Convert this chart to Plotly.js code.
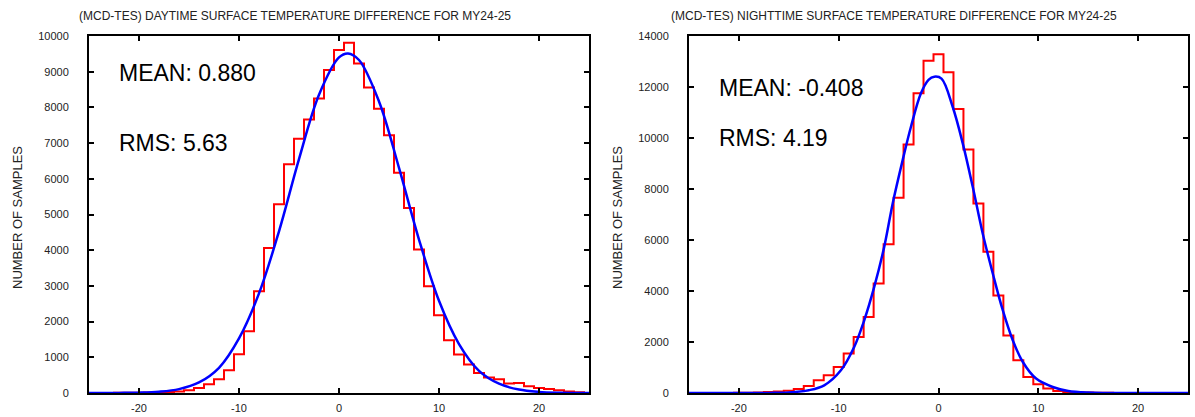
<!DOCTYPE html>
<html>
<head>
<meta charset="utf-8">
<script src="https://cdn.plot.ly/plotly-3.0.1.min.js"></script>
<style>html,body{margin:0;padding:0;background:#fff;}#chart{width:1195px;height:417px;}</style>
</head>
<body>
<div id="chart"></div>
<script>
// ---- Data ----
const binCenters = [-24,-23,-22,-21,-20,-19,-18,-17,-16,-15,-14,-13,-12,-11,-10,-9,-8,-7,-6,-5,-4,-3,-2,-1,0,1,2,3,4,5,6,7,8,9,10,11,12,13,14,15,16,17,18,19,20,21,22,23,24];

const dayCounts = [2,3,4,6,8,12,18,25,40,75,140,244,384,636,1085,1729,2850,4065,5289,6411,7120,7663,8252,9046,9606,9811,9233,8560,7960,7223,6167,5180,4019,2991,2178,1477,1076,796,561,431,384,263,280,188,140,110,75,40,20];

const nightCounts = [0,1,2,3,5,10,20,35,55,90,157,275,498,694,1020,1546,2199,2984,4293,5836,7654,9750,11751,13031,13282,12575,11135,9553,7434,5535,3822,2252,1283,628,341,173,80,40,25,15,10,6,3,2,1,0,0,0,0];

const dayFitX = [-25,-22,-20,-18,-16,-14,-12,-10,-8,-6,-4,-2,0,0.9,2,4,6,8,10,12,14,16,18,20,22,25];
const dayFitY = [0,3,10,36,109,296,707,1530,2790,4530,6551,8353,9399,9513,9328,8167,6307,4297,2582,1370,620,260,96,31,8,0];

const nightFitX = [-25,-20,-17,-15,-13,-11.45,-9.78,-8.45,-7.44,-6.44,-5.44,-4.59,-3.59,-2.76,-1.76,-1,-0.42,0.3,1.42,2.43,3.43,4.43,5.44,6.44,7.44,8.45,9.78,11.45,13,15,17,20,25];
const nightFitY = [0,0,3,22,111,302,891,1806,2853,4160,5731,7434,9133,10440,11751,12280,12403,12330,11226,9789,8086,6256,4686,3246,2068,1217,565,236,80,15,3,0,0];

const dayTitle = "(MCD-TES) DAYTIME SURFACE TEMPERATURE DIFFERENCE FOR MY24-25";
const nightTitle = "(MCD-TES) NIGHTTIME SURFACE TEMPERATURE DIFFERENCE FOR MY24-25";
const dayStats = ["MEAN: 0.880", "RMS: 5.63"];
const nightStats = ["MEAN: -0.408", "RMS: 4.19"];
const yTitle = "NUMBER OF SAMPLES";
const xTicks = [-20,-10,0,10,20];
const dayYTicks = [0,1000,2000,3000,4000,5000,6000,7000,8000,9000,10000];
const nightYTicks = [0,2000,4000,6000,8000,10000,12000,14000];

// ---- Build ----
function withEnds(counts){ return [0].concat(counts).concat([0]); }
const histX = [-25].concat(binCenters).concat([25]);

const traces = [
  {x: histX, y: withEnds(dayCounts), xaxis:'x', yaxis:'y', mode:'lines',
   line:{color:'#ff0000', width:2, shape:'hvh'}, hoverinfo:'skip'},
  {x: dayFitX, y: dayFitY, xaxis:'x', yaxis:'y', mode:'lines',
   line:{color:'#0000ff', width:2.5, shape:'spline'}, hoverinfo:'skip'},
  {x: histX, y: withEnds(nightCounts), xaxis:'x2', yaxis:'y2', mode:'lines',
   line:{color:'#ff0000', width:2, shape:'hvh'}, hoverinfo:'skip'},
  {x: nightFitX, y: nightFitY, xaxis:'x2', yaxis:'y2', mode:'lines',
   line:{color:'#0000ff', width:2.5, shape:'spline'}, hoverinfo:'skip'}
];

const W = 1195, H = 417;
const FAM = '"Liberation Sans", Arial, Helvetica, sans-serif';
const tickFont = {family:FAM, size:11, color:'#222'};
function xAxis(domain, anchor){
  return {domain: domain, anchor: anchor, range:[-25,25], tickvals: xTicks, ticktext: xTicks.map(String),
    showgrid:false, zeroline:false, showline:true, linecolor:'#000', linewidth:2, mirror:'ticks',
    ticks:'inside', ticklen:5, tickwidth:2, tickcolor:'#000', tickfont: tickFont, ticklabelstandoff:4};
}
function yAxis(domain, anchor, ticks, maxV){
  return {domain: domain, anchor: anchor, range:[0,maxV], tickvals: ticks, ticktext: ticks.map(String),
    showgrid:false, zeroline:false, showline:true, linecolor:'#000', linewidth:2, mirror:'ticks',
    ticks:'inside', ticklen:5, tickwidth:2, tickcolor:'#000', tickfont: tickFont, ticklabelstandoff:16};
}
const yDom = [24/H, 381/H];

const titleFont = {family:FAM, size:12, color:'#222'};
const yTitleFont = {family:FAM, size:13, color:'#222'};
const statFont = {family:FAM, size:23, color:'#000'};
function paperAnn(text, px, py, font, extra){
  return Object.assign({text:text, xref:'paper', yref:'paper', x:px/W, y:1-py/H, showarrow:false, font:font,
    xanchor:'center', yanchor:'middle', borderpad:0}, extra||{});
}

const layout = {
  width: W, height: H,
  margin:{l:0,r:0,t:0,b:0},
  paper_bgcolor:'#fff', plot_bgcolor:'#fff',
  showlegend:false,
  xaxis: xAxis([89/W, 589/W], 'y'),
  yaxis: yAxis(yDom, 'x', dayYTicks, 10000),
  xaxis2: xAxis([689/W, 1188/W], 'y2'),
  yaxis2: yAxis(yDom, 'x2', nightYTicks, 14000),
  annotations: [
    paperAnn(dayTitle, 294.5, 16, titleFont),
    paperAnn(nightTitle, 894.5, 16, titleFont),
    paperAnn(yTitle, 17, 218, yTitleFont, {textangle:-90}),
    paperAnn(yTitle, 617, 218, yTitleFont, {textangle:-90}),
    paperAnn(dayStats[0], 118, 73, statFont, {xanchor:'left'}),
    paperAnn(dayStats[1], 118, 143, statFont, {xanchor:'left'}),
    paperAnn(nightStats[0], 718, 88, statFont, {xanchor:'left'}),
    paperAnn(nightStats[1], 718, 138, statFont, {xanchor:'left'})
  ]
};

Plotly.newPlot('chart', traces, layout, {staticPlot:true, displayModeBar:false});
</script>
</body>
</html>
